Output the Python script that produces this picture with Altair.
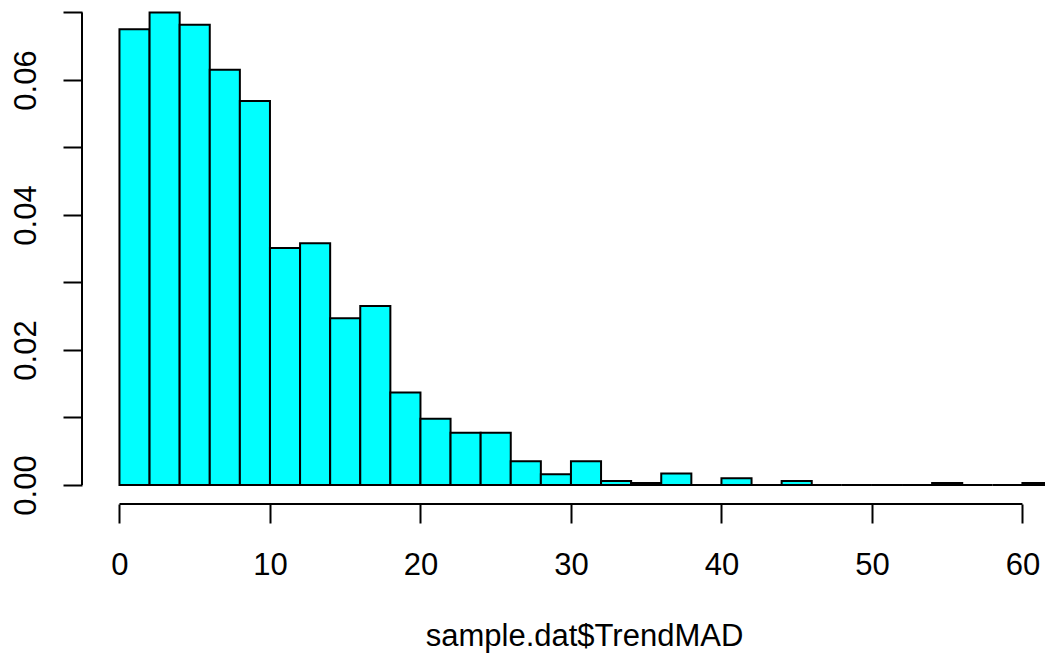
import altair as alt
import pandas as pd

# Histogram of sample.dat$TrendMAD (density, bin width 2)
bin_starts = list(range(0, 62, 2))
densities = [
    0.0675, 0.0700, 0.0682, 0.0615, 0.0569,
    0.0351, 0.0358, 0.0247, 0.0265, 0.0137,
    0.0098, 0.00775, 0.00775, 0.0035, 0.0016,
    0.0035, 0.0006, 0.0003, 0.0017, 0.0,
    0.0010, 0.0, 0.0006, 0.0, 0.0,
    0.0, 0.0, 0.0003, 0.0, 0.0,
    0.0003,
]
x_ticks = [0, 10, 20, 30, 40, 50, 60]
y_ticks = [0.0, 0.01, 0.02, 0.03, 0.04, 0.05, 0.06, 0.07]
x_title = "sample.dat$TrendMAD"

df = pd.DataFrame({
    "start": bin_starts,
    "end": [s + 2 for s in bin_starts],
    "density": densities,
})

W, H = 963, 504
FONT = "Liberation Sans"
FS = 31

xscale = alt.Scale(domain=[-2.49, 61.5], nice=False, zero=False)
yscale = alt.Scale(domain=[-0.002815, 0.07185], nice=False, zero=False)

bars = alt.Chart(df).mark_rect(
    fill="#00FFFF", stroke="black", strokeWidth=2, clip=True
).encode(
    x=alt.X("start:Q", scale=xscale, axis=alt.Axis(
        values=x_ticks, domain=False, grid=False, tickSize=19, tickWidth=2,
        tickColor="black", labelFont=FONT, labelFontSize=FS, labelColor="black",
        labelBaseline="alphabetic", labelPadding=51, labelFlush=False,
        title=x_title, titleFont=FONT, titleFontSize=FS, titleFontWeight="normal",
        titleColor="black", titleBaseline="alphabetic", titleY=141, titleX=502,
        titleAnchor="middle", titleAlign="center",
    )),
    x2="end:Q",
    y=alt.Y("density:Q", scale=yscale, axis=alt.Axis(
        values=y_ticks, domain=False, grid=False, tickSize=19, tickWidth=2,
        tickColor="black", labelFont=FONT, labelFontSize=FS, labelColor="black",
        labelAngle=270, labelAlign="center", labelBaseline="alphabetic",
        labelPadding=28, labelFlush=False, labelOverlap=False,
        labelExpr="round(datum.value * 100) % 2 == 0 ? format(datum.value, '.2f') : ''",
        title=None,
    )),
    y2=alt.datum(0),
)

x_line = alt.Chart(pd.DataFrame({"a": [x_ticks[0]], "b": [x_ticks[-1]]})).mark_rule(
    color="black", strokeWidth=2
).encode(
    x=alt.X("a:Q", scale=xscale), x2="b:Q", y=alt.value(H)
)

y_line = alt.Chart(pd.DataFrame({"a": [y_ticks[0]], "b": [y_ticks[-1]]})).mark_rule(
    color="black", strokeWidth=2
).encode(
    y=alt.Y("a:Q", scale=yscale), y2="b:Q", x=alt.value(0)
)

chart = alt.layer(bars, x_line, y_line).properties(
    width=W, height=H,
    autosize=alt.AutoSizeParams(type="none"),
    padding={"left": 82, "top": 0, "right": 0, "bottom": 157},
    background="white",
).configure_view(stroke=None)

chart.save("out.html", embed_options={"renderer": "svg", "actions": False})
